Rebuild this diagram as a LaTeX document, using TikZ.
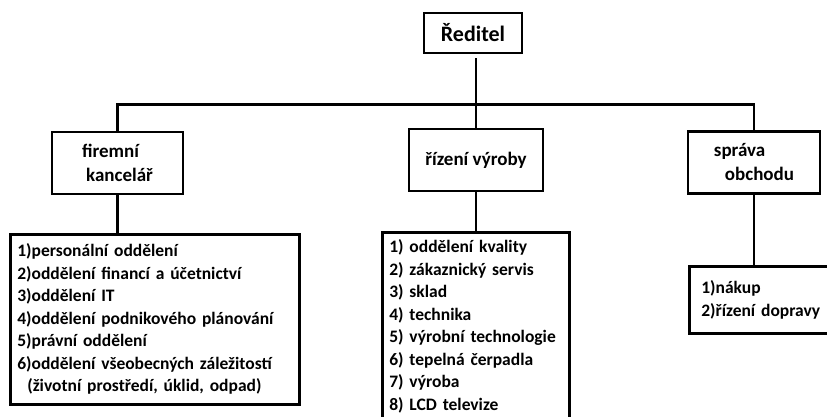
\documentclass[tikz,border=0pt]{standalone}
\usepackage{fontspec}
\setmainfont{Carlito}
\usetikzlibrary{positioning}
\tikzset{every node/.style={font=\bfseries},
 unit/.style={draw,line width=2.6pt,minimum width=131pt,minimum height=62pt,
  align=left,font=\bfseries\fontsize{19}{24}\selectfont},
 tasks/.style={draw,line width=2.6pt,anchor=north west,align=left,
  font=\bfseries\fontsize{17.5}{22.5}\selectfont},
 link/.style={line width=2.6pt}}

\begin{document}
\begin{tikzpicture}[x=1pt,y=-1pt]
\useasboundingbox (0,0) rectangle (827,416);
% top and departments
\node[unit,minimum width=98pt,minimum height=40pt,font=\bfseries\fontsize{22}{24}\selectfont] (head) at (473,33) {Ředitel};
\node[unit] (office) at (117.5,163) {firemní\\\hspace*{4pt}kancelář};
\node[unit,minimum width=134pt] (prod) at (476,160) {řízení výroby};
\node[unit,minimum width=132pt] (trade) at (754,162.5) {správa\\\hspace*{11pt}obchodu};
% lists
\node[tasks,text width=275pt,inner xsep=7pt,minimum height=170pt] (officelist) at (9,233)
 {1)personální oddělení\\2)oddělení financí a účetnictví\\3)oddělení IT\\
  4)oddělení podnikového plánování\\5)právní oddělení\\
  6)oddělení všeobecných záležitostí\\\hspace*{10pt}(životní prostředí, úklid, odpad)};
\node[tasks,text width=173pt,inner xsep=7pt,minimum height=188pt] (prodlist) at (381,231)
 {1) oddělení kvality\\2) zákaznický servis\\3) sklad\\4) technika\\
  5) výrobní technologie\\6) tepelná čerpadla\\7) výroba\\8) LCD televize};
\node[tasks,text width=150pt,inner xsep=12pt,minimum height=67pt] (tradelist) at (688,265)
 {1)nákup\\2)řízení dopravy};
% lines
\draw[link,shorten >=4pt] (prod.north) -- (prod |- head.south);
\draw[link] (office.north) -- ++(0,-26) -| (trade.north);
\draw[link] (office) -- (office |- officelist.north);
\draw[link] (prod) -- (prod |- prodlist.north);
\draw[link] (trade) -- (trade |- tradelist.north);
\end{tikzpicture}
\end{document}
